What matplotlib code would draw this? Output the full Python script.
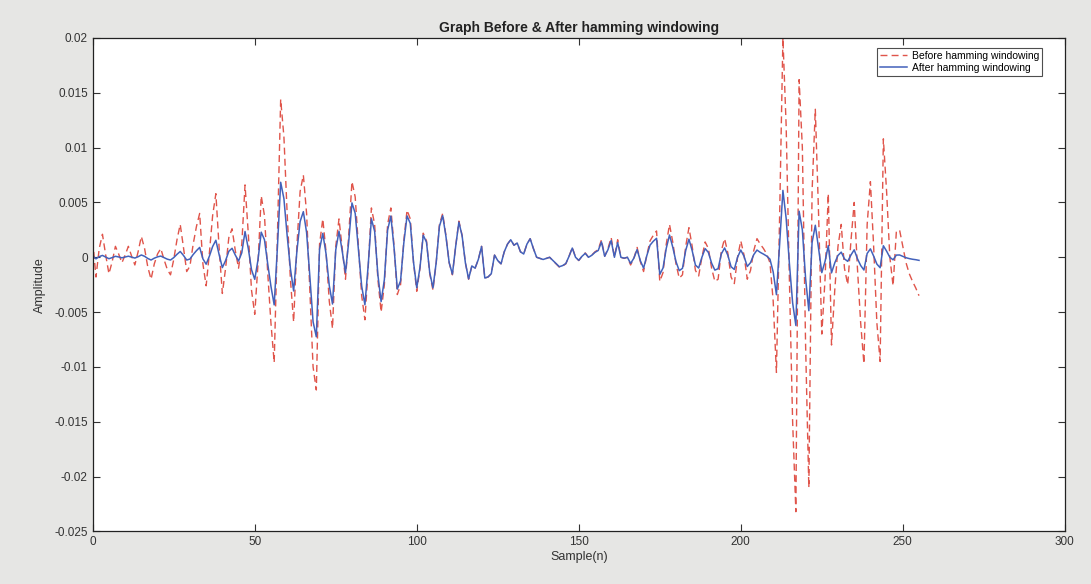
import matplotlib
matplotlib.use("Agg")
import matplotlib.pyplot as plt
from matplotlib.ticker import MultipleLocator, FuncFormatter

# sample values (n = 0..255)
before_hamming = [
    0.0015, -0.0018, 0.0008, 0.0021, 0.0002, -0.0015, -0.0004, 0.0010, 0.0003, -0.0005,
    0.0002, 0.0010, 0.0001, -0.0007, 0.0005, 0.0019, 0.0008, -0.0009, -0.0020, -0.0006,
    0.0003, 0.0008, -0.0002, -0.0011, -0.0016, -0.0002, 0.0016, 0.0030, 0.0009, -0.0013,
    -0.0008, 0.0012, 0.0028, 0.0040, -0.0006, -0.0026, 0.0004, 0.0038, 0.0058, 0.0009,
    -0.0033, -0.0010, 0.0018, 0.0026, 0.0006, -0.0010, 0.0012, 0.0066, 0.0022, -0.0030,
    -0.0052, -0.0006, 0.0056, 0.0038, -0.0014, -0.0060, -0.0096, 0.0020, 0.0144, 0.0110,
    0.0040, -0.0020, -0.0059, 0.0010, 0.0060, 0.0075, 0.0040, -0.0030, -0.0100, -0.0121,
    0.0012, 0.0035, 0.0005, -0.0040, -0.0065, 0.0010, 0.0035, 0.0008, -0.0020, 0.0020,
    0.0069, 0.0055, 0.0010, -0.0035, -0.0057, -0.0010, 0.0045, 0.0030, -0.0020, -0.0050,
    -0.0025, 0.0030, 0.0045, 0.0010, -0.0034, -0.0025, 0.0015, 0.0043, 0.0035, -0.0005,
    -0.0031, -0.0010, 0.0022, 0.0015, -0.0015, -0.0030, -0.0005, 0.0030, 0.0040, 0.0020,
    -0.0005, -0.0016, 0.0010, 0.0033, 0.0020, -0.0005, -0.0020, -0.0008, -0.0010, -0.0002,
    0.0010, -0.0019, -0.0018, -0.0015, 0.0002, -0.0003, -0.0006, 0.0005, 0.0012, 0.0016,
    0.0011, 0.0013, 0.0005, 0.0003, 0.0012, 0.0017, 0.0008, 0.0000, -0.0001, -0.0002,
    -0.0001, 0.0000, -0.0003, -0.0006, -0.0009, -0.0008, -0.0006, 0.0001, 0.0009, 0.0000,
    -0.0003, 0.0001, 0.0004, 0.0000, 0.0002, 0.0005, 0.0007, 0.0016, 0.0001, 0.0008,
    0.0018, 0.0000, 0.0016, 0.0000, -0.0001, 0.0000, -0.0007, -0.0001, 0.0009, -0.0004,
    -0.0013, 0.0002, 0.0015, 0.0020, 0.0024, -0.0022, -0.0014, 0.0012, 0.0030, 0.0014,
    -0.0006, -0.0019, -0.0016, 0.0010, 0.0027, 0.0010, -0.0012, -0.0017, 0.0000, 0.0014,
    0.0008, -0.0010, -0.0022, -0.0020, 0.0006, 0.0017, 0.0004, -0.0018, -0.0024, 0.0000,
    0.0015, 0.0002, -0.0020, -0.0012, 0.0006, 0.0017, 0.0012, 0.0008, 0.0003, -0.0005,
    -0.0040, -0.0105, 0.0040, 0.0200, 0.0120, -0.0020, -0.0150, -0.0232, 0.0162, 0.0100,
    -0.0080, -0.0210, 0.0060, 0.0135, 0.0040, -0.0070, -0.0020, 0.0058, -0.0080, -0.0030,
    0.0010, 0.0030, -0.0010, -0.0025, 0.0015, 0.0050, -0.0010, -0.0060, -0.0097, 0.0030,
    0.0069, 0.0010, -0.0060, -0.0095, 0.0108, 0.0060, 0.0000, -0.0026, 0.0023, 0.0025,
    0.0010, -0.0005, -0.0015, -0.0022, -0.0028, -0.0035,
]

after_hamming = [
    0.00012, -0.00014, 0.00006, 0.00017, 0.00002, -0.00013, -0.00003, 0.00009, 0.00003, -0.00005,
    0.00002, 0.00010, 0.00001, -0.00007, 0.00005, 0.00021, 0.00009, -0.00011, -0.00025, -0.00008,
    0.00004, 0.00011, -0.00003, -0.00017, -0.00025, -0.00003, 0.00027, 0.00053, 0.00017, -0.00025,
    -0.00016, 0.00025, 0.00060, 0.00090, -0.00014, -0.00063, 0.00010, 0.00098, 0.00155, 0.00025,
    -0.00094, -0.00030, 0.00055, 0.00082, 0.00020, -0.00034, 0.00041, 0.00235, 0.00081, -0.00113,
    -0.00201, -0.00024, 0.00229, 0.00160, -0.00060, -0.00265, -0.00434, 0.00093, 0.00684, 0.00535,
    0.00199, -0.00102, -0.00307, 0.00053, 0.00326, 0.00416, 0.00226, -0.00173, -0.00588, -0.00725,
    0.00073, 0.00218, 0.00032, -0.00258, -0.00426, 0.00067, 0.00237, 0.00055, -0.00140, 0.00142,
    0.00496, 0.00401, 0.00074, -0.00263, -0.00433, -0.00077, 0.00351, 0.00237, -0.00160, -0.00404,
    -0.00204, 0.00248, 0.00376, 0.00084, -0.00290, -0.00215, 0.00130, 0.00377, 0.00309, -0.00045,
    -0.00278, -0.00091, 0.00201, 0.00138, -0.00139, -0.00279, -0.00047, 0.00283, 0.00380, 0.00191,
    -0.00048, -0.00154, 0.00097, 0.00321, 0.00195, -0.00049, -0.00197, -0.00079, -0.00099, -0.00020,
    0.00099, -0.00189, -0.00179, -0.00150, 0.00020, -0.00030, -0.00060, 0.00050, 0.00120, 0.00160,
    0.00110, 0.00130, 0.00050, 0.00030, 0.00120, 0.00169, 0.00079, 0.00000, -0.00010, -0.00020,
    -0.00010, 0.00000, -0.00029, -0.00058, -0.00086, -0.00076, -0.00057, 0.00009, 0.00084, 0.00000,
    -0.00028, 0.00009, 0.00036, 0.00000, 0.00018, 0.00045, 0.00062, 0.00140, 0.00009, 0.00069,
    0.00153, 0.00000, 0.00134, 0.00000, -0.00008, 0.00000, -0.00056, -0.00008, 0.00070, -0.00031,
    -0.00099, 0.00015, 0.00111, 0.00146, 0.00173, -0.00156, -0.00098, 0.00082, 0.00203, 0.00093,
    -0.00039, -0.00122, -0.00101, 0.00062, 0.00165, 0.00060, -0.00071, -0.00098, 0.00000, 0.00079,
    0.00044, -0.00054, -0.00117, -0.00104, 0.00031, 0.00085, 0.00019, -0.00086, -0.00111, 0.00000,
    0.00066, 0.00009, -0.00084, -0.00049, 0.00024, 0.00066, 0.00045, 0.00029, 0.00011, -0.00017,
    -0.00134, -0.00341, 0.00126, 0.00610, 0.00355, -0.00057, -0.00416, -0.00622, 0.00420, 0.00250,
    -0.00193, -0.00487, 0.00134, 0.00292, 0.00083, -0.00140, -0.00038, 0.00107, -0.00142, -0.00051,
    0.00017, 0.00047, -0.00015, -0.00037, 0.00021, 0.00068, -0.00013, -0.00075, -0.00116, 0.00035,
    0.00077, 0.00011, -0.00062, -0.00095, 0.00105, 0.00056, 0.00000, -0.00023, 0.00020, 0.00021,
    0.00008, -0.00004, -0.00012, -0.00018, -0.00022, -0.00028,
]

samples = list(range(len(before_hamming)))

plt.rcParams["font.family"] = ["Liberation Sans", "DejaVu Sans"]

fig = plt.figure(figsize=(10.91, 5.84), dpi=100, facecolor="#e6e6e4")
ax = fig.add_axes([0.085, 0.09, 0.891, 0.845])
ax.set_facecolor("white")

ax.plot(samples, before_hamming, color="#e0544a", linestyle=(0, (5, 3)), linewidth=1.0,
        label="Before hamming windowing")
ax.plot(samples, after_hamming, color="#4261bb", linewidth=1.1,
        label="After hamming windowing")

ax.set_xlim(0, 300)
ax.set_ylim(-0.025, 0.02)
ax.xaxis.set_major_locator(MultipleLocator(50))
ax.yaxis.set_major_locator(MultipleLocator(0.005))
ax.yaxis.set_major_formatter(FuncFormatter(lambda v, p: "%g" % (round(v, 4) + 0.0)))
ax.tick_params(direction="in", top=True, right=True, length=5, width=0.8,
               labelsize=8.5, colors="#333333")
for s in ax.spines.values():
    s.set_linewidth(0.9)
    s.set_color("#222222")

ax.set_title("Graph Before & After hamming windowing", fontsize=10, fontweight="bold",
             pad=4, color="#222222")
ax.set_xlabel("Sample(n)", fontsize=9, labelpad=2, color="#333333")
ax.set_ylabel("Amplitude", fontsize=9, labelpad=6, color="#333333")

leg = ax.legend(loc="upper right", bbox_to_anchor=(0.977, 0.98), fontsize=7.5,
                fancybox=False, edgecolor="#222222", handlelength=2.6,
                borderpad=0.3, labelspacing=0.2, handletextpad=0.5, borderaxespad=0)
leg.get_frame().set_linewidth(0.8)

fig.savefig("out.png", dpi=100, facecolor=fig.get_facecolor())
